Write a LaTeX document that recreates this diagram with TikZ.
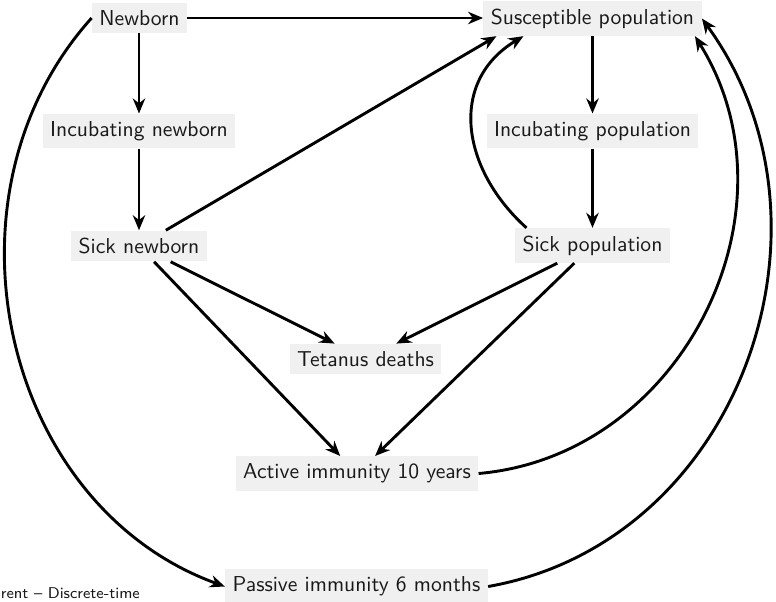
\documentclass[tikz,border=0pt]{standalone}
\usepackage{fontspec}
\usetikzlibrary{arrows.meta,calc}
\begin{document}
\begin{tikzpicture}[x=0.5pt,y=0.5pt,
  box/.style={fill=gray!12,inner sep=3.7pt,font=\sffamily\fontsize{10.8}{13}\selectfont,text=black!90},
  arr/.style={line width=1.45pt,-{Stealth[length=7.5pt,width=6.2pt,inset=2.4pt]}},
  lbl/.style={inner sep=0pt,font=\sffamily\fontsize{7.8}{10}\selectfont,text=black!90}]
\useasboundingbox (0,0) rectangle (776,-601);
\node[box] (nb)   at (139.5,-18)   {Newborn};
\node[box] (inb)  at (139,-131)    {Incubating newborn};
\node[box] (snb)  at (139,-246)    {Sick newborn};
\node[box] (sus)  at (592.5,-18.5) {Susceptible population};
\node[box] (ipop) at (592.5,-131)  {Incubating population};
\node[box] (spop) at (592.5,-245.5){Sick population};
\node[box] (tet)  at (365.5,-359)  {Tetanus deaths};
\node[box] (act)  at (357,-473.5)  {Active immunity 10 years};
\node[box] (pas)  at (356.5,-586.5){Passive immunity 6 months};
\node[lbl,anchor=base west] (cap) at (0.5,-598) {rent -- Discrete-time};
% straight connectors
\draw[arr] (nb.east) -- (nb.east -| sus.west);
\draw[arr] (nb.south -| inb.north) -- (inb.north);
\draw[arr] (inb) -- (snb);
\draw[arr] (sus) -- (ipop);
\draw[arr] (ipop) -- (spop);
\draw[arr] (snb) -- ($(sus.south)+(-96,0)$);
\draw[arr] (snb) -- (tet);
\draw[arr] (snb) -- (act);
\draw[arr] (spop) -- (tet);
\draw[arr] (spop) -- (act);
% curved connectors
\draw[arr] ($(spop.north)+(-66,0)$) .. controls +(138:88) and +(211:88) .. ($(sus.south)+(-69,0)$);
\draw[arr] (act.east) .. controls +(5:205) and +(-58:205) .. ($(sus.south east)+(-7,0)$);
\draw[arr] (pas.east) .. controls +(10:255) and +(-54:255) .. (sus.east);
\draw[arr] (nb.west) .. controls +(228:238) and +(160:238) .. (pas.west);
\end{tikzpicture}
\end{document}
